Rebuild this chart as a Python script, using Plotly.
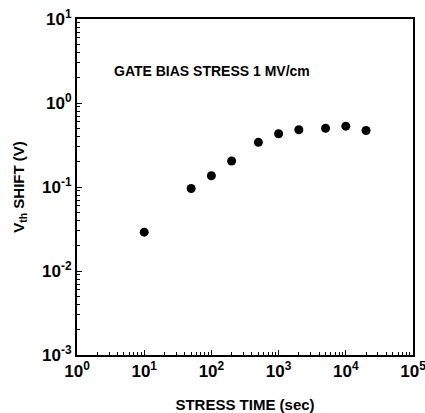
import plotly.graph_objects as go

stress_time = [10, 50, 100, 200, 500, 1000, 2000, 5000, 10000, 20000]
vth_shift = [0.029, 0.096, 0.136, 0.204, 0.34, 0.43, 0.48, 0.50, 0.53, 0.47]

x_tickvals = [1, 10, 100, 1000, 10000, 100000]
x_ticktext = ["<b>10<sup>0</sup></b>", "<b>10<sup>1</sup></b>", "<b>10<sup>2</sup></b>",
              "<b>10<sup>3</sup></b>", "<b>10<sup>4</sup></b>", "<b>10<sup>5</sup></b>"]
y_tickvals = [0.001, 0.01, 0.1, 1, 10]
y_ticktext = ["<b>10<sup>-3</sup></b>", "<b>10<sup>-2</sup></b>", "<b>10<sup>-1</sup></b>",
              "<b>10<sup>0</sup></b>", "<b>10<sup>1</sup></b>"]

x_minor = [m * d for d in [1, 10, 100, 1000, 10000] for m in range(2, 10)]
y_minor = [m * d for d in [0.001, 0.01, 0.1, 1] for m in range(2, 10)]

FONT = "Liberation Sans, Arial, sans-serif"

fig = go.Figure()
fig.add_trace(go.Scatter(
    x=stress_time, y=vth_shift, mode="markers",
    marker=dict(color="black", size=9, symbol="circle"),
    showlegend=False,
))

axis_common = dict(
    showgrid=False, zeroline=False, automargin=False,
    showline=True, linecolor="black", linewidth=2, mirror=True,
    ticks="inside", ticklen=5, tickwidth=1, tickcolor="black",
    tickfont=dict(family=FONT, size=17, color="black"),
    ticklabeloverflow="allow",
)

fig.update_xaxes(
    type="log", range=[0, 5],
    tickvals=x_tickvals, ticktext=x_ticktext,
    minor=dict(ticks="inside", ticklen=3, tickcolor="black", tickvals=x_minor, showgrid=False),
    title=dict(text="<b>STRESS TIME (sec)</b>", font=dict(family=FONT, size=15, color="black"), standoff=20),
    **axis_common,
)
fig.update_yaxes(
    type="log", range=[-3, 1],
    tickvals=y_tickvals, ticktext=y_ticktext,
    minor=dict(ticks="inside", ticklen=3, tickcolor="black", tickvals=y_minor, showgrid=False),
    title=dict(text="<b>V<sub>th</sub> SHIFT (V)</b>", font=dict(family=FONT, size=15, color="black"), standoff=14),
    **axis_common,
)

fig.add_annotation(
    x=0.105, y=0.845, xref="paper", yref="paper",
    text="<b>GATE BIAS STRESS 1 MV/cm</b>", showarrow=False,
    xanchor="left", yanchor="middle",
    font=dict(family=FONT, size=14, color="black"),
)

fig.update_layout(
    width=425, height=413,
    margin=dict(l=77, r=12, t=19, b=58),
    paper_bgcolor="white", plot_bgcolor="white",
)

fig.write_html(
    "out.html",
    config={"displayModeBar": False},
    post_script="document.body.style.margin='0';document.documentElement.style.overflow='hidden';document.body.style.overflow='hidden';",
)
